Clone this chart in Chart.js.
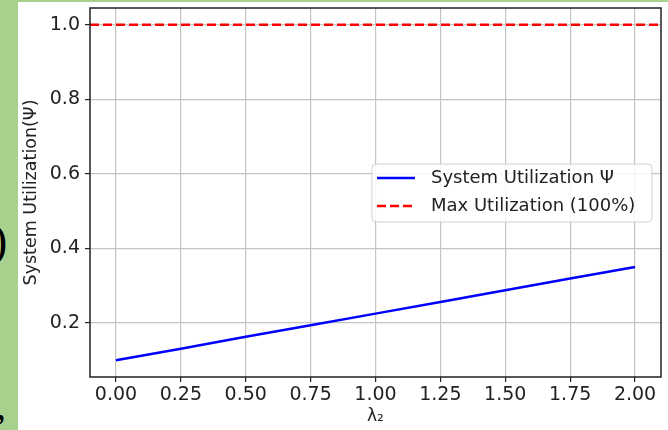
<!DOCTYPE html>
<html>
<head>
<meta charset="utf-8">
<script src="https://cdn.jsdelivr.net/npm/chart.js@4.4.1/dist/chart.umd.min.js"></script>
<style>
  html, body { margin: 0; padding: 0; }
  body { width: 668px; height: 430px; background: #a9d18e; position: relative; overflow: hidden; }
  #paper { position: absolute; left: 18px; top: 2px; width: 650px; height: 428px; background: #fff; }
  #chart { position: absolute; left: 0; top: 0; }
  .mark { position: absolute; font-family: "Liberation Serif", serif; color: #000; }
</style>
</head>
<body>
<div class="mark" style="left:-8px; top:214px; font-size:46px;">)</div>
<div class="mark" style="left:-4px; top:382px; font-size:40px;">,</div>
<div id="paper"></div>
<canvas id="chart" width="668" height="430"></canvas>
<script>
// data
const lambda2 = [0, 0.25, 0.5, 0.75, 1.0, 1.25, 1.5, 1.75, 2.0];
const utilization = [0.100, 0.131, 0.163, 0.194, 0.225, 0.256, 0.288, 0.319, 0.350];
const maxUtil = 1.0;
const xLimits = [-0.1, 2.1];
const yLimits = [0.055, 1.045];
const xTicks = [0, 0.25, 0.5, 0.75, 1.0, 1.25, 1.5, 1.75, 2.0];
const yTicks = [0.2, 0.4, 0.6, 0.8, 1.0];

const font = 'DejaVu Sans';

// black frame around the plot, like matplotlib spines
const frame = {
  id: 'frame',
  afterDraw(chart) {
    const { ctx, chartArea: a } = chart;
    ctx.save();
    ctx.strokeStyle = '#222';
    ctx.lineWidth = 1.5;
    ctx.strokeRect(a.left, a.top, a.right - a.left, a.bottom - a.top);
    ctx.restore();
  }
};

// legend box drawn inside the axes
const boxLegend = {
  id: 'boxLegend',
  afterDraw(chart) {
    const ctx = chart.ctx;
    const x = 372, y = 164, w = 280, h = 58;
    ctx.save();
    ctx.fillStyle = 'rgba(255,255,255,0.85)';
    ctx.strokeStyle = '#d0d0d0';
    ctx.lineWidth = 1;
    ctx.beginPath();
    ctx.roundRect(x, y, w, h, 4);
    ctx.fill();
    ctx.stroke();
    ctx.font = '18px "' + font + '"';
    ctx.textBaseline = 'middle';
    chart.data.datasets.forEach((ds, i) => {
      const cy = y + 14 + i * 28;
      ctx.strokeStyle = ds.borderColor;
      ctx.lineWidth = ds.borderWidth;
      ctx.setLineDash(ds.borderDash || []);
      ctx.beginPath();
      ctx.moveTo(377, cy);
      ctx.lineTo(415, cy);
      ctx.stroke();
      ctx.setLineDash([]);
      ctx.fillStyle = '#222';
      ctx.fillText(ds.label, 431, cy);
    });
    ctx.restore();
  }
};

new Chart(document.getElementById('chart').getContext('2d'), {
  type: 'line',
  data: {
    datasets: [
      {
        label: 'System Utilization Ψ',
        data: lambda2.map((v, i) => ({ x: v, y: utilization[i] })),
        borderColor: '#0000ff',
        borderWidth: 2.5,
        pointRadius: 0,
        tension: 0
      },
      {
        label: 'Max Utilization (100%)',
        data: xLimits.map(v => ({ x: v, y: maxUtil })),
        borderColor: '#ff0000',
        borderWidth: 2.5,
        borderDash: [9, 4],
        pointRadius: 0
      }
    ]
  },
  options: {
    responsive: false,
    animation: false,
    layout: { padding: { top: 8, right: 7, left: 0, bottom: 0 } },
    plugins: { legend: { display: false }, tooltip: { enabled: false } },
    scales: {
      x: {
        type: 'linear',
        min: xLimits[0],
        max: xLimits[1],
        afterFit: s => { s.height = 53; s.paddingLeft = 0; s.paddingRight = 0; },
        afterBuildTicks: s => { s.ticks = xTicks.map(v => ({ value: v })); },
        ticks: {
          font: { family: font, size: 19 },
          color: '#222',
          padding: 2,
          maxRotation: 0,
          callback: v => v.toFixed(2)
        },
        grid: { color: '#c4c4c4', lineWidth: 1.2, tickLength: 5, tickColor: '#222' },
        border: { display: false },
        title: {
          display: true,
          text: 'λ₂',
          font: { family: font, size: 17 },
          color: '#222',
          padding: { top: 0, bottom: 3 }
        }
      },
      y: {
        type: 'linear',
        min: yLimits[0],
        max: yLimits[1],
        afterFit: s => { s.width = 90; s.paddingTop = 0; s.paddingBottom = 0; },
        afterBuildTicks: s => { s.ticks = yTicks.map(v => ({ value: v })); },
        ticks: {
          font: { family: font, size: 19 },
          color: '#222',
          padding: 5,
          callback: v => v.toFixed(1)
        },
        grid: { color: '#c4c4c4', lineWidth: 1.2, tickLength: 5, tickColor: '#222' },
        border: { display: false },
        title: {
          display: true,
          text: 'System Utilization(Ψ)',
          font: { family: font, size: 17.5 },
          color: '#222',
          padding: { top: 21, bottom: 0 }
        }
      }
    }
  },
  plugins: [frame, boxLegend]
});
</script>
</body>
</html>
